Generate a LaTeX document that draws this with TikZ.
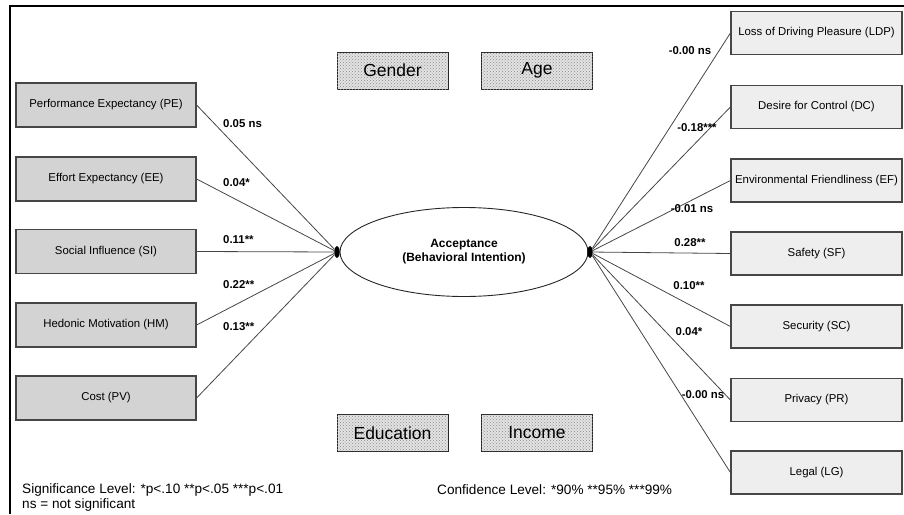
\documentclass[tikz,border=0pt]{standalone}
\usepackage{fontspec}
\setmainfont{Liberation Sans}
\usetikzlibrary{shapes.geometric,patterns}

\definecolor{leftgray}{RGB}{211,211,211}
\definecolor{rightgray}{RGB}{238,238,238}
\definecolor{edgegray}{RGB}{70,70,70}

\begin{document}
\begin{tikzpicture}[
		x=1pt, y=-1pt,
		leftbox/.style={draw=edgegray, line width=1.2pt, fill=leftgray, minimum width=180pt, minimum height=44pt, inner sep=0pt, font=\fontsize{11.4}{13}\selectfont},
		rightbox/.style={draw=edgegray, line width=1.2pt, fill=rightgray, minimum width=171pt, minimum height=43pt, inner sep=0pt, font=\fontsize{11.4}{13}\selectfont},
		modbox/.style={draw=black!85, line width=0.9pt, fill=gray!22, postaction={pattern=crosshatch dots, pattern color=gray!90}, minimum width=111pt, minimum height=37pt, inner sep=0pt, font=\fontsize{17.5}{20}\selectfont},
		coef/.style={font=\bfseries\fontsize{11.4}{13}\selectfont, inner sep=0pt},
		path/.style={draw=edgegray, line width=0.8pt},
		knot/.style={fill=black, ellipse, minimum width=5.5pt, minimum height=12pt, inner sep=0pt},
	]
	\useasboundingbox (0,0) rectangle (904,514);
	\draw[line width=2.2pt] (10,514) -- (10,6) -- (904,6);

	% construct
	\node[draw=black!85, line width=0.9pt, ellipse, minimum width=248pt, minimum height=89pt, inner sep=0pt, align=center, font=\bfseries\fontsize{12}{14}\selectfont] (acc) at (464,252) {Acceptance\\(Behavioral Intention)};
	\node[knot] (dl) at (337,252) {};
	\node[knot] (dr) at (590,252) {};

	% predictors, left
	\node[leftbox] (pe) at (106,105) {Performance Expectancy (PE)};
	\node[leftbox] (ee) at (106,179) {Effort Expectancy (EE)};
	\node[leftbox] (si) at (106,251.5) {Social Influence (SI)};
	\node[leftbox] (hm) at (106,325) {Hedonic Motivation (HM)};
	\node[leftbox] (pv) at (106,398) {Cost (PV)};

	\draw[path] (pe.east) -- (dl);
	\draw[path] (ee.east) -- (dl);
	\draw[path] (si.east) -- (dl);
	\draw[path] (hm.east) -- (dl);
	\draw[path] (pv.east) -- (dl);

	\node[coef, anchor=west] (cpe) at (223,124) {0.05 ns};
	\node[coef, anchor=west] (cee) at (223,183) {0.04*};
	\node[coef, anchor=west] (csi) at (223,240) {0.11**};
	\node[coef, anchor=west] (chm) at (223,285) {0.22**};
	\node[coef, anchor=west] (cpv) at (223,327) {0.13**};

	% predictors, right
	\node[rightbox] (ldp) at (816.5,33) {Loss of Driving Pleasure (LDP)};
	\node[rightbox] (dc) at (816.5,107) {Desire for Control (DC)};
	\node[rightbox] (ef) at (816.5,180.5) {Environmental Friendliness (EF)};
	\node[rightbox] (sf) at (816.5,253.5) {Safety (SF)};
	\node[rightbox] (sc) at (816.5,326.5) {Security (SC)};
	\node[rightbox] (pr) at (816.5,400) {Privacy (PR)};
	\node[rightbox] (lg) at (816.5,472.5) {Legal (LG)};

	\draw[path] (dr) -- (ldp.west);
	\draw[path] (dr) -- (dc.west);
	\draw[path] (dr) -- (ef.west);
	\draw[path] (dr) -- (sf.west);
	\draw[path] (dr) -- (sc.west);
	\draw[path] (dr) -- (pr.west);
	\draw[path] (dr) -- (lg.west);

	\node[coef] (cldp) at (690,51) {-0.00 ns};
	\node[coef] (cdc) at (697,128) {-0.18***};
	\node[coef] (cef) at (692,209) {-0.01 ns};
	\node[coef] (csf) at (690,243) {0.28**};
	\node[coef] (csc) at (689,286) {0.10**};
	\node[coef] (cpr) at (689,332) {0.04*};
	\node[coef] (clg) at (703,395) {-0.00 ns};

	% moderators
	\node[modbox] (gender) at (392.5,70.5) {Gender};
	\node[modbox] (age) at (537,70.5) {Age};
	\node[modbox] (edu) at (392.5,433) {Education};
	\node[modbox] (inc) at (537,433) {Income};

	% notes
	\node[anchor=west, inner sep=0pt, font=\fontsize{13.6}{16}\selectfont] (sig) at (22,490) {Significance Level: *p<.10 **p<.05 ***p<.01};
	\node[anchor=west, inner sep=0pt, font=\fontsize{13.6}{16}\selectfont] (ns) at (22,505) {ns = not significant};
	\node[anchor=west, inner sep=0pt, font=\fontsize{13.6}{16}\selectfont] (conf) at (437,490) {Confidence Level: *90\% **95\% ***99\%};
\end{tikzpicture}
\end{document}
